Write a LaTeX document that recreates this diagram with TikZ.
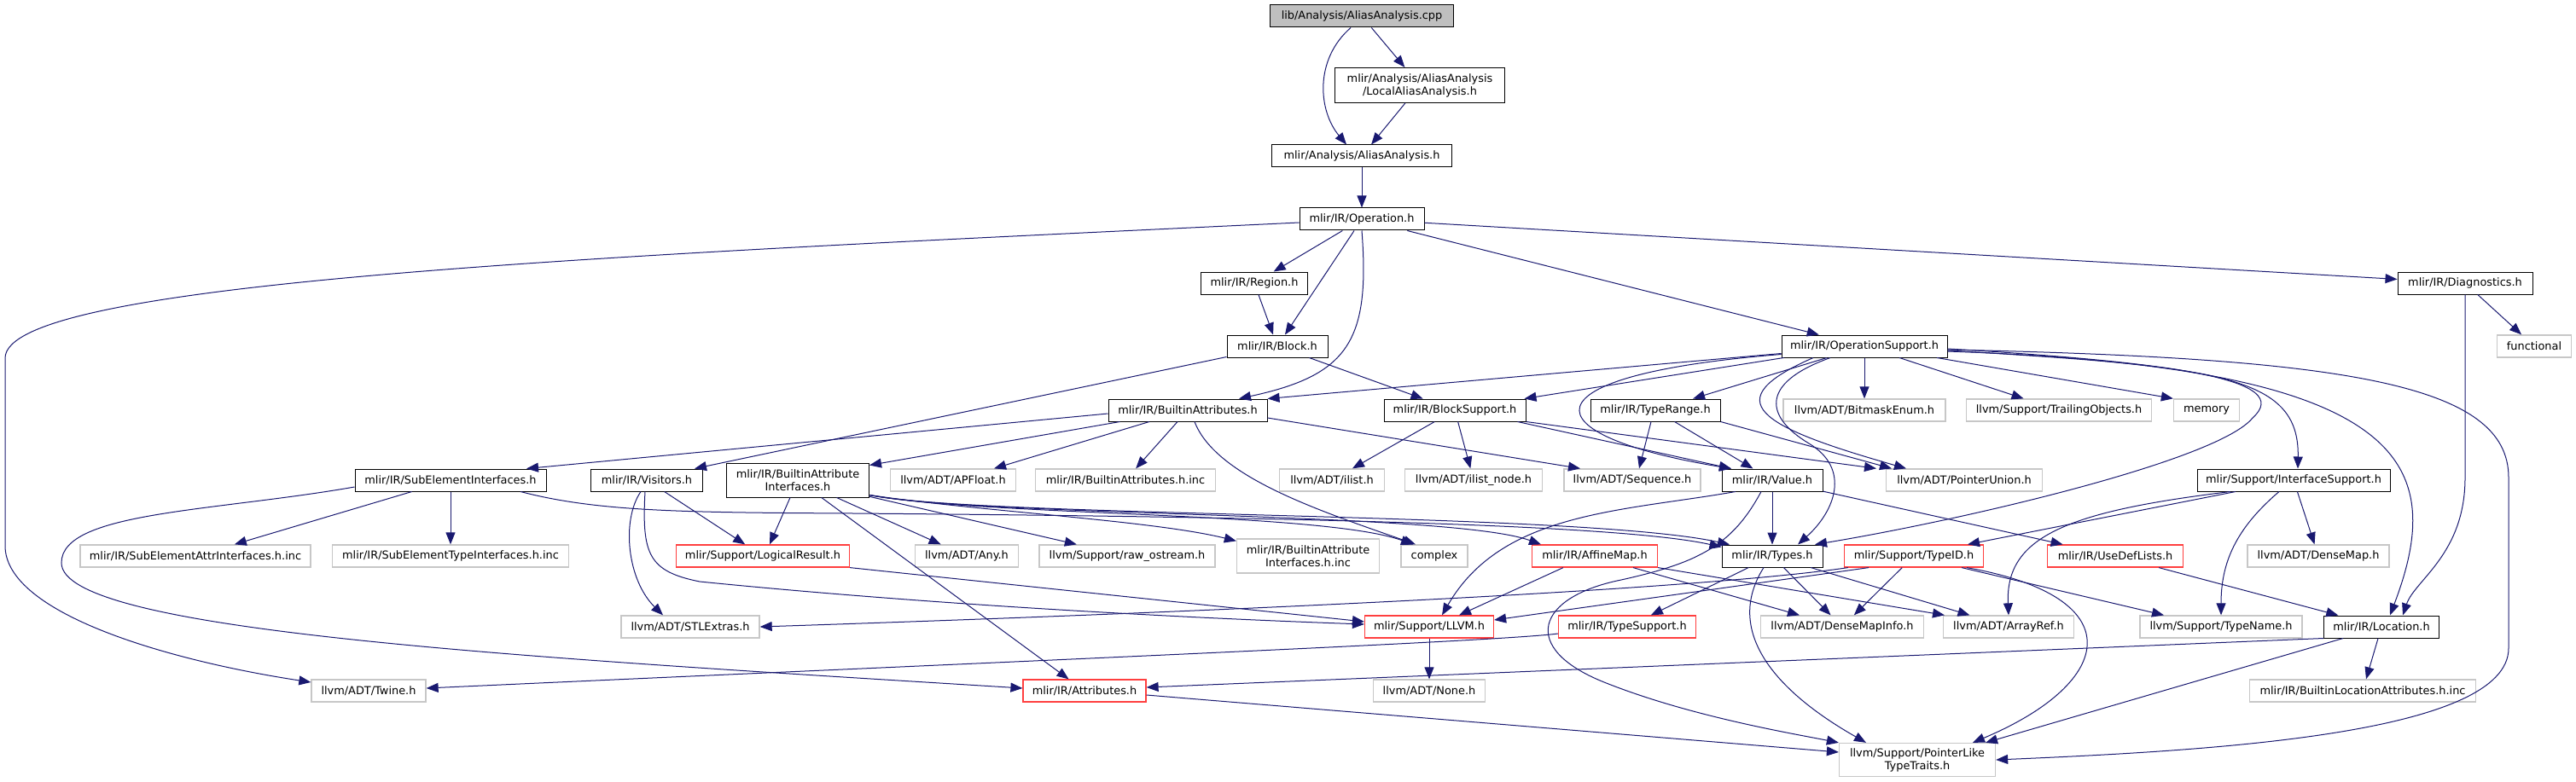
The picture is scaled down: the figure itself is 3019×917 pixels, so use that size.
\documentclass[tikz,border=0pt]{standalone}
\usepackage{fontspec}
\setmainfont{DejaVu Sans}
\usetikzlibrary{arrows.meta}
\definecolor{edgeblue}{HTML}{191970}
\definecolor{truncred}{HTML}{FF3F3F}
\begin{document}
\begin{tikzpicture}[x=1pt,y=-1pt,
  box/.style={rectangle,inner sep=0pt,minimum height=26pt,align=center,line width=1pt,
    font=\fontsize{12.9}{15}\selectfont},
  srcbox/.style={box,draw=black,fill=black!25},
  incbox/.style={box,draw=black},
  sysbox/.style={box,draw=black!22,line width=1.3pt},
  cutbox/.style={box,draw=truncred,line width=1.2pt},
  edge/.style={draw=edgeblue,line width=1pt,-{Triangle[length=14pt,width=11pt]}}]
\useasboundingbox (0,0) rectangle (3019,917);

\node[srcbox,minimum width=215pt] (cpp) at (1596,19) {lib/Analysis/AliasAnalysis.cpp};
\node[incbox,minimum width=199pt,minimum height=41pt] (local) at (1664,100) {mlir/Analysis/AliasAnalysis\\/LocalAliasAnalysis.h};
\node[incbox,minimum width=211pt] (aah) at (1596,183) {mlir/Analysis/AliasAnalysis.h};
\node[incbox,minimum width=146pt] (op) at (1596,257) {mlir/IR/Operation.h};
\node[incbox,minimum width=125pt] (region) at (1470,332) {mlir/IR/Region.h};
\node[incbox,minimum width=158pt] (diag) at (2889,332) {mlir/IR/Diagnostics.h};
\node[incbox,minimum width=118pt] (block) at (1497,406) {mlir/IR/Block.h};
\node[incbox,minimum width=194pt] (opsup) at (2185,406) {mlir/IR/OperationSupport.h};
\node[sysbox,minimum width=87pt] (functional) at (2970,406) {functional};

\node[incbox,minimum width=186pt] (battr) at (1392,481) {mlir/IR/BuiltinAttributes.h};
\node[incbox,minimum width=166pt] (blocksup) at (1705,481) {mlir/IR/BlockSupport.h};
\node[incbox,minimum width=152pt] (typerange) at (1940,481) {mlir/IR/TypeRange.h};
\node[sysbox,minimum width=190pt] (bitmask) at (2185,481) {llvm/ADT/BitmaskEnum.h};
\node[sysbox,minimum width=217pt] (trailing) at (2413,481) {llvm/Support/TrailingObjects.h};
\node[sysbox,minimum width=77pt] (memory) at (2586,481) {memory};

\node[incbox,minimum width=224pt] (subelem) at (528,563) {mlir/IR/SubElementInterfaces.h};
\node[incbox,minimum width=131pt] (visitors) at (758,563) {mlir/IR/Visitors.h};
\node[incbox,minimum width=167pt,minimum height=40pt] (baiface) at (935,563) {mlir/IR/BuiltinAttribute\\Interfaces.h};
\node[sysbox,minimum width=147pt] (apfloat) at (1117,563) {llvm/ADT/APFloat.h};
\node[sysbox,minimum width=211pt] (battrinc) at (1319,563) {mlir/IR/BuiltinAttributes.h.inc};
\node[sysbox,minimum width=123pt] (ilist) at (1561,563) {llvm/ADT/ilist.h};
\node[sysbox,minimum width=161pt] (ilistnode) at (1727,563) {llvm/ADT/ilist\_node.h};
\node[sysbox,minimum width=160pt] (sequence) at (1913,563) {llvm/ADT/Sequence.h};
\node[incbox,minimum width=118pt] (value) at (2077,563) {mlir/IR/Value.h};
\node[sysbox,minimum width=183pt] (ptrunion) at (2302,563) {llvm/ADT/PointerUnion.h};
\node[incbox,minimum width=226pt] (ifacesup) at (2688,563) {mlir/Support/InterfaceSupport.h};

\node[sysbox,minimum width=270pt] (subattrinc) at (229,652) {mlir/IR/SubElementAttrInterfaces.h.inc};
\node[sysbox,minimum width=277pt] (subtypeinc) at (528,652) {mlir/IR/SubElementTypeInterfaces.h.inc};
\node[cutbox,minimum width=203pt] (logres) at (894,652) {mlir/Support/LogicalResult.h};
\node[sysbox,minimum width=121pt] (any) at (1133,652) {llvm/ADT/Any.h};
\node[sysbox,minimum width=206pt] (rawos) at (1321,652) {llvm/Support/raw\_ostream.h};
\node[sysbox,minimum width=167pt,minimum height=40pt] (baifaceinc) at (1533,652) {mlir/IR/BuiltinAttribute\\Interfaces.h.inc};
\node[sysbox,minimum width=78pt] (complex) at (1681,652) {complex};
\node[cutbox,minimum width=147pt] (affine) at (1869,652) {mlir/IR/AffineMap.h};
\node[incbox,minimum width=118pt] (types) at (2077,652) {mlir/IR/Types.h};
\node[cutbox,minimum width=163pt] (typeid) at (2243,652) {mlir/Support/TypeID.h};
\node[cutbox,minimum width=159pt] (usedef) at (2479,652) {mlir/IR/UseDefLists.h};
\node[sysbox,minimum width=166pt] (densemap) at (2717,652) {llvm/ADT/DenseMap.h};

\node[sysbox,minimum width=162pt] (stlextras) at (809,735) {llvm/ADT/STLExtras.h};
\node[cutbox,minimum width=151pt] (llvm) at (1675,735) {mlir/Support/LLVM.h};
\node[cutbox,minimum width=161pt] (typesupport) at (1907,735) {mlir/IR/TypeSupport.h};
\node[sysbox,minimum width=191pt] (densemapinfo) at (2159,735) {llvm/ADT/DenseMapInfo.h};
\node[sysbox,minimum width=153pt] (arrayref) at (2354,735) {llvm/ADT/ArrayRef.h};
\node[sysbox,minimum width=190pt] (typename) at (2603,735) {llvm/Support/TypeName.h};
\node[incbox,minimum width=135pt] (location) at (2791,735) {mlir/IR/Location.h};

\node[sysbox,minimum width=134pt] (twine) at (432,810) {llvm/ADT/Twine.h};
\node[cutbox,minimum width=144pt] (attributes) at (1271,810) {mlir/IR/Attributes.h};
\node[sysbox,minimum width=131pt] (none) at (1675,810) {llvm/ADT/None.h};
\node[sysbox,minimum width=265pt] (builtinloc) at (2769,810) {mlir/IR/BuiltinLocationAttributes.h.inc};
\node[sysbox,minimum width=183pt,minimum height=39pt] (ptrlike) at (2247,891) {llvm/Support/PointerLike\\TypeTraits.h};

% top part
\draw[edge] (cpp) -- (local);
\draw[edge] ([xshift=-13pt]cpp.south) .. controls (1540,70) and (1545,130) .. ([xshift=-18pt]aah.north);
\draw[edge] (local) -- (aah);
\draw[edge] (aah) -- (op);
\draw[edge] (op) -- (region);
\draw[edge] (op) -- (block);
\draw[edge] (op.south) .. controls (1606,400) and (1580,440) .. ([xshift=60pt]battr.north);
\draw[edge] (op) -- (opsup);
\draw[edge] (op) -- (diag);
\draw[edge] ([yshift=-4pt]op.west) .. controls (700,300) and (6,330) .. (6,420) -- (6,640)
  .. controls (6,720) and (200,775) .. ([yshift=10pt]twine.west);
\draw[edge] (region) -- (block);
\draw[edge] (block) -- (blocksup);
\draw[edge] ([yshift=1pt]block.south west) -- ([xshift=56pt]visitors.north);
\draw[edge] (diag) -- (functional);
\draw[edge] (diag.south) -- (2889,560) .. controls (2889,650) and (2830,680) .. ([xshift=25pt]location.north);

% OperationSupport.h
\draw[edge] ([yshift=5pt]opsup.south west) -- (battr.north east);
\draw[edge] ([xshift=3pt]opsup.south west) -- ([xshift=-2pt]blocksup.north east);
\draw[edge] (opsup) -- (typerange);
\draw[edge] ([yshift=4pt]opsup.south west) .. controls (1780,440) and (1790,510) .. ([xshift=-48pt]value.north);
\draw[edge] (opsup) -- (bitmask);
\draw[edge] (opsup) -- (trailing);
\draw[edge] ([xshift=85pt]opsup.south) -- (memory.north west);
\draw[edge] ([xshift=-60pt]opsup.south) .. controls (2010,470) and (2060,500) .. ([xshift=-68pt]ptrunion.north);
\draw[edge] ([yshift=-5pt]opsup.east) .. controls (2600,430) and (2695,440) .. ([xshift=5pt]ifacesup.north);
\draw[edge] ([yshift=-6pt]opsup.east) .. controls (2820,430) and (2870,540) .. ([xshift=10pt]location.north);
\draw[edge] ([yshift=-4pt]opsup.east) .. controls (2750,420) and (2940,450) .. (2940,560) -- (2940,760)
  .. controls (2940,860) and (2600,880) .. (ptrlike.east);
\draw[edge] ([xshift=-40pt]opsup.south) .. controls (2060,450) and (2070,490) .. (2120,520)
  .. controls (2170,550) and (2150,600) .. ([xshift=30pt]types.north);
\draw[edge] ([yshift=-3pt]opsup.east) .. controls (2550,425) and (2690,445) .. (2640,490)
  .. controls (2600,540) and (2300,610) .. ([xshift=50pt]types.north);

% BlockSupport.h and TypeRange.h
\draw[edge] (blocksup) -- (ilist);
\draw[edge] (blocksup) -- (ilistnode);
\draw[edge] ([xshift=-10pt]blocksup.south east) -- ([xshift=-48pt]value.north);
\draw[edge] (blocksup.south east) -- ([xshift=-103pt]ptrunion.north);
\draw[edge] ([xshift=-5pt]typerange.south) -- ([xshift=8pt]sequence.north);
\draw[edge] (typerange) -- (value);
\draw[edge] (typerange.south east) -- ([xshift=-85pt]ptrunion.north);

% BuiltinAttributes.h
\draw[edge] ([yshift=-4pt]battr.west) -- ([xshift=89pt]subelem.north);
\draw[edge] ([xshift=14pt]battr.south west) -- ([yshift=-3pt]baiface.north east);
\draw[edge] ([xshift=-45pt]battr.south) -- ([xshift=48pt]apfloat.north);
\draw[edge] (battr) -- (battrinc);
\draw[edge] ([yshift=-9pt]battr.east) -- ([xshift=-61pt]sequence.north);
\draw[edge] ([xshift=8pt]battr.south) .. controls (1425,560) and (1550,600) .. ([xshift=-22pt]complex.north);

% SubElementInterfaces.h, Visitors.h
\draw[edge] (subelem) -- (subattrinc);
\draw[edge] (subelem) -- (subtypeinc);
\draw[edge] ([yshift=-8pt]subelem.west) .. controls (250,600) and (72,600) .. (72,660)
  .. controls (72,740) and (600,770) .. ([yshift=3pt]attributes.west);
\draw[edge] ([xshift=82pt]subelem.south) .. controls (700,600) and (800,601) .. (1000,602)
  .. controls (1500,606) and (1900,615) .. ([yshift=-3pt]types.north west);
\draw[edge] ([xshift=-7pt]visitors.south) .. controls (728,610) and (735,680) .. ([xshift=-32pt]stlextras.north);
\draw[edge] (visitors) -- (logres);
\draw[edge] ([xshift=-2pt]visitors.south) .. controls (752,650) and (760,670) .. (820,682)
  .. controls (1100,710) and (1400,725) .. ([yshift=3pt]llvm.west);

% BuiltinAttributeInterfaces.h
\draw[edge] ([xshift=-9pt]baiface.south) -- ([xshift=8pt]logres.north);
\draw[edge] (baiface) -- (attributes);
\draw[edge] (baiface) -- (any);
\draw[edge] (baiface) -- (rawos);
\draw[edge] ([yshift=3pt]baiface.south east) .. controls (1150,600) and (1350,610) .. ([yshift=-3pt]baifaceinc.north west);
\draw[edge] ([yshift=3pt]baiface.south east) .. controls (1150,605) and (1550,600) .. ([xshift=-25pt]complex.north);
\draw[edge] ([yshift=3pt]baiface.south east) .. controls (1150,606) and (1700,600) .. ([xshift=-63pt]affine.north);
\draw[edge] ([yshift=3pt]baiface.south east) .. controls (1150,607) and (1850,600) .. ([xshift=-50pt]types.north);
\draw[edge] (logres.south east) -- ([yshift=6pt]llvm.west);

% Value.h, Types.h, AffineMap.h
\draw[edge] (value) -- (types);
\draw[edge] (value) -- (usedef);
\draw[edge] ([xshift=-43pt]value.south) .. controls (1900,600) and (1760,600) .. ([xshift=15pt]llvm.north);
\draw[edge] ([xshift=-13pt]value.south) .. controls (2030,640) and (1990,660) .. (1900,680)
  .. controls (1800,700) and (1780,760) .. (1880,800)
  .. controls (1980,840) and (2100,860) .. (ptrlike.north west);
\draw[edge] (types) -- (typesupport);
\draw[edge] (types) -- (densemapinfo);
\draw[edge] (types) -- (arrayref);
\draw[edge] ([xshift=-10pt]types.south) .. controls (2020,740) and (2080,810) .. ([xshift=-60pt]ptrlike.north);
\draw[edge] ([xshift=-37pt]affine.south) -- ([xshift=35pt]llvm.north);
\draw[edge] ([xshift=45pt]affine.south) -- ([xshift=-50pt]densemapinfo.north);
\draw[edge] (affine.south east) -- ([xshift=-75pt]arrayref.north);

% TypeID.h, UseDefLists.h, InterfaceSupport.h
\draw[edge] (typeid) -- (densemapinfo);
\draw[edge] ([xshift=-53pt]typeid.south) -- ([yshift=8pt]llvm.east);
\draw[edge] ([xshift=5pt]typeid.south west) .. controls (2000,690) and (1500,715) .. (stlextras.east);
\draw[edge] ([xshift=56pt]typeid.south) -- ([xshift=-67pt]typename.north);
\draw[edge] ([xshift=62pt]typeid.south) .. controls (2500,700) and (2480,800) .. ([xshift=65pt]ptrlike.north);
\draw[edge] (usedef) -- (location);
\draw[edge] ([xshift=-68pt]ifacesup.south) -- ([xshift=63pt]typeid.north);
\draw[edge] ([xshift=-74pt]ifacesup.south) .. controls (2420,600) and (2350,630) .. (arrayref.north);
\draw[edge] ([xshift=-17pt]ifacesup.south) .. controls (2620,620) and (2603,660) .. (typename.north);
\draw[edge] (ifacesup) -- (densemap);

% bottom part
\draw[edge] (location.south west) -- ([yshift=4pt]attributes.east);
\draw[edge] (location) -- (builtinloc);
\draw[edge] ([xshift=-45pt]location.south) -- ([xshift=80pt]ptrlike.north);
\draw[edge] (llvm) -- (none);
\draw[edge] ([yshift=-8pt]typesupport.west) .. controls (1760,752) and (1200,775) .. ([yshift=3pt]twine.east);
\draw[edge] ([yshift=-5pt]attributes.east) -- ([yshift=9pt]ptrlike.west);
\end{tikzpicture}
\end{document}
